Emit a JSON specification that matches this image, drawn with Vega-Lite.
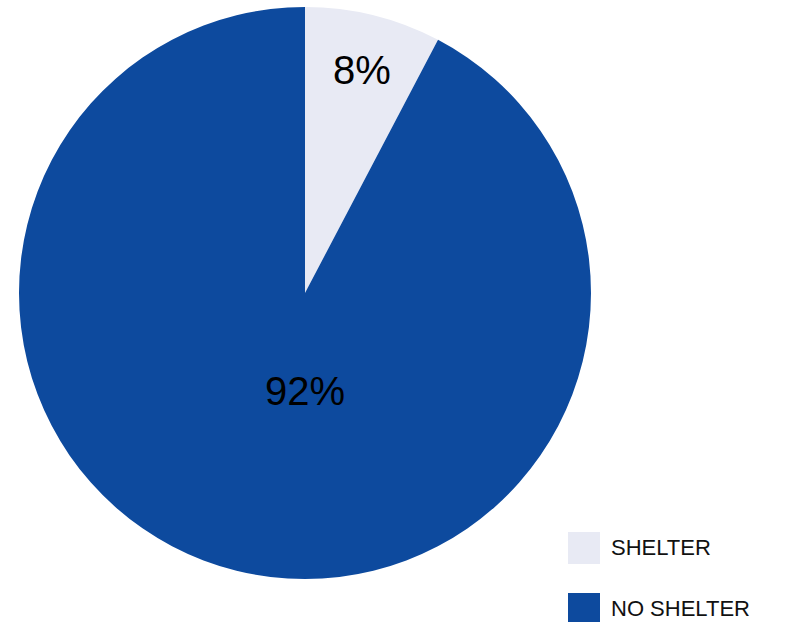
{
  "$schema": "https://vega.github.io/schema/vega-lite/v6.json",
  "width": 610,
  "height": 586,
  "autosize": {"type": "none"},
  "padding": {"left": 0, "top": 0, "right": 187, "bottom": 36},
  "background": "white",
  "config": {"view": {"stroke": null}, "font": "Liberation Sans"},
  "data": {
    "values": [
      {"category": "SHELTER", "value": 7.7, "label": "8%"},
      {"category": "NO SHELTER", "value": 92.3, "label": "92%"}
    ]
  },
  "encoding": {
    "theta": {"field": "value", "type": "quantitative", "stack": true},
    "order": {"field": "category", "sort": "descending"}
  },
  "layer": [
    {
      "mark": {"type": "arc", "outerRadius": 286, "stroke": null},
      "encoding": {
        "color": {
          "field": "category",
          "type": "nominal",
          "sort": ["SHELTER", "NO SHELTER"],
          "scale": {"domain": ["SHELTER", "NO SHELTER"], "range": ["#E8EAF4", "#0D4A9E"]},
          "legend": {
            "title": null,
            "orient": "none",
            "legendX": 568,
            "legendY": 532,
            "padding": 0,
            "symbolType": "square",
            "symbolSize": 1024,
            "symbolStrokeWidth": 0,
            "labelFontSize": 22,
            "labelFont": "Liberation Sans",
            "labelColor": "#111111",
            "labelOffset": 11,
            "rowPadding": 29
          }
        }
      }
    },
    {
      "mark": {
        "type": "text",
        "fontSize": 40,
        "font": "Liberation Sans",
        "color": "#000000",
        "radius": {"expr": "datum.category == 'SHELTER' ? 228 : 100"},
        "thetaOffset": {"expr": "datum.category == 'SHELTER' ? 0.01 : -0.242"}
      },
      "encoding": {
        "text": {"field": "label", "type": "nominal"}
      }
    }
  ]
}
